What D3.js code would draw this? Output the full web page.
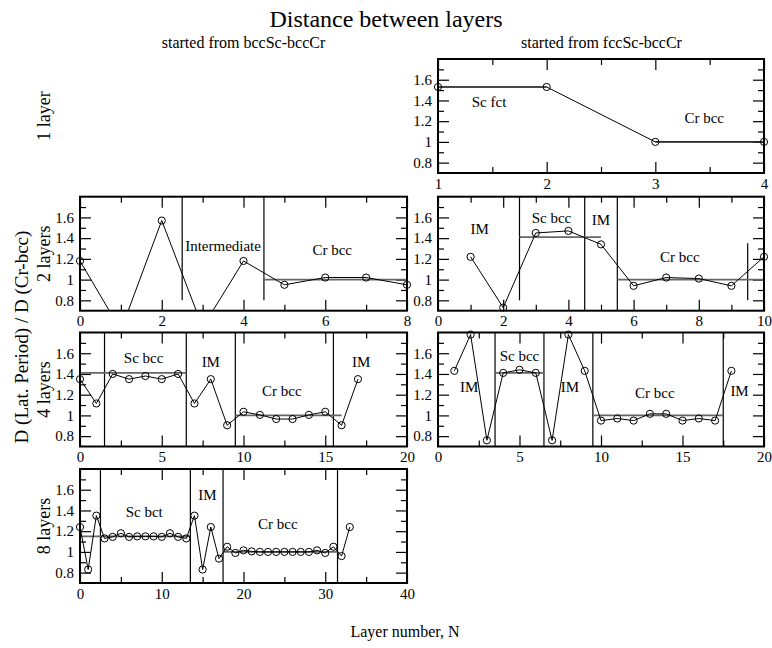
<!DOCTYPE html>
<html>
<head>
<meta charset="utf-8">
<script src="https://cdn.jsdelivr.net/npm/d3@7"></script>
<style>
  body { margin: 0; background: #fff; }
  svg { display: block; font-family: "Liberation Serif", "Times New Roman", serif; }
  svg text { font-family: "Liberation Serif", "Times New Roman", serif; }
</style>
</head>
<body>
<svg></svg>
<script>
// values
let layer1X = [1, 2, 3, 4];
let layer1Y = [1.53, 1.53, 1.00, 1.00];

let bcc2X = d3.range(0, 9);
let bcc2Y = [1.18, 0.51, 1.57, 0.54, 1.18, 0.95, 1.02, 1.02, 0.95];

let fcc2X = d3.range(1, 11);
let fcc2Y = [1.22, 0.73, 1.45, 1.47, 1.34, 0.94, 1.02, 1.01, 0.94, 1.22];

let bcc4X = d3.range(0, 18);
let bcc4Y = [1.35, 1.115, 1.40, 1.35, 1.38, 1.35, 1.40, 1.115, 1.35, 0.905,
  1.035, 1.005, 0.965, 0.965, 1.005, 1.035, 0.905, 1.35];

let fcc4X = d3.range(1, 19);
let fcc4Y = [1.43, 1.78, 0.76, 1.41, 1.44, 1.41, 0.76, 1.78, 1.43, 0.95,
  0.97, 0.95, 1.015, 1.015, 0.95, 0.97, 0.95, 1.43];

let bcc8X = d3.range(0, 34);
let bcc8Y = [1.24, 0.83, 1.35, 1.13, 1.145, 1.18, 1.145, 1.15, 1.15, 1.15,
  1.145, 1.18, 1.145, 1.13, 1.35, 0.83, 1.24, 0.935, 1.05, 0.99,
  1.015, 1.005, 1.0, 1.0, 1.0, 1.0, 1.0, 1.0, 1.0, 1.015,
  0.99, 1.05, 0.96, 1.24];

// reference levels: [from, to, level]
let layer1Ref = [[1, 2, 1.53], [3, 4, 1.0]];
let bcc2Ref = [[4.5, 8, 1.0]];
let fcc2Ref = [[2.5, 5, 1.41], [5.5, 10, 1.0]];
let bcc4Ref = [[0, 6.5, 1.41], [9.5, 16, 1.0]];
let fcc4Ref = [[3.5, 6.5, 1.41], [9.5, 17.5, 1.0]];
let bcc8Ref = [[0, 13.5, 1.15], [17.5, 31.5, 1.0]];

// region borders: [x, from, to]
let bcc2Div = [[2.5, 0.8, 1.8], [4.5, 0.8, 1.8]];
let fcc2Div = [[2.5, 0.8, 1.8], [4.5, 0.7, 1.8], [5.5, 0.7, 1.8], [9.5, 0.8, 1.35]];
let bcc4Div = [[1.5, 0.7, 1.8], [6.5, 0.7, 1.8], [9.5, 0.7, 1.8], [15.5, 0.7, 1.8]];
let fcc4Div = [[3.5, 0.7, 1.8], [6.5, 0.7, 1.8], [9.5, 0.7, 1.8], [17.5, 0.7, 1.8]];
let bcc8Div = [[2.5, 0.7, 1.8], [13.5, 0.7, 1.8], [17.5, 0.7, 1.8], [31.5, 0.7, 1.8]];

// region names: [text, x, y]
let layer1Names = [['Sc fct', 1.47, 1.39], ['Cr bcc', 3.45, 1.23]];
let bcc2Names = [['Intermediate', 3.5, 1.33], ['Cr bcc', 6.17, 1.29]];
let fcc2Names = [['IM', 1.28, 1.49], ['Sc bcc', 3.48, 1.60], ['IM', 5.0, 1.58], ['Cr bcc', 7.42, 1.22]];
let bcc4Names = [['Sc bcc', 3.89, 1.56], ['IM', 8.0, 1.52], ['Cr bcc', 12.34, 1.24], ['IM', 17.2, 1.52]];
let fcc4Names = [['IM', 1.92, 1.275], ['Sc bcc', 5.0, 1.58], ['IM', 8.1, 1.275], ['Cr bcc', 13.3, 1.22], ['IM', 18.5, 1.24]];
let bcc8Names = [['Sc bct', 7.85, 1.39], ['IM', 15.6, 1.55], ['Cr bcc', 24.2, 1.27]];

let yMajor = [0.8, 1, 1.2, 1.4, 1.6];
let yMinor = [0.9, 1.1, 1.3, 1.5, 1.7];
let rowLabels = ['1 layer', '2 layers', '4 layers', '8 layers'];

// layout
let config = { svg: { width: 772, height: 648 }, cols: [80, 438], rows: [59, 196.7, 332.5, 469], pw: 327, ph: 114 };

let panels = [
  { col: 1, row: 0, xs: layer1X, ys: layer1Y, ref: layer1Ref, div: [], names: layer1Names, dom: [1, 4], major: [1, 2, 3, 4], minor: [1.5, 2.5, 3.5] },
  { col: 0, row: 1, xs: bcc2X, ys: bcc2Y, ref: bcc2Ref, div: bcc2Div, names: bcc2Names, dom: [0, 8], major: [0, 2, 4, 6, 8], minor: [1, 3, 5, 7] },
  { col: 1, row: 1, xs: fcc2X, ys: fcc2Y, ref: fcc2Ref, div: fcc2Div, names: fcc2Names, dom: [0, 10], major: [0, 2, 4, 6, 8, 10], minor: [1, 3, 5, 7, 9] },
  { col: 0, row: 2, xs: bcc4X, ys: bcc4Y, ref: bcc4Ref, div: bcc4Div, names: bcc4Names, dom: [0, 20], major: [0, 5, 10, 15, 20], minor: [2.5, 7.5, 12.5, 17.5] },
  { col: 1, row: 2, xs: fcc4X, ys: fcc4Y, ref: fcc4Ref, div: fcc4Div, names: fcc4Names, dom: [0, 20], major: [0, 5, 10, 15, 20], minor: [2.5, 7.5, 12.5, 17.5] },
  { col: 0, row: 3, xs: bcc8X, ys: bcc8Y, ref: bcc8Ref, div: bcc8Div, names: bcc8Names, dom: [0, 40], major: [0, 10, 20, 30, 40], minor: [5, 15, 25, 35] }
];

let svg = d3.select('svg')
  .attr('width', config.svg.width)
  .attr('height', config.svg.height);

panels.forEach(drawPanel);

function drawPanel(p, i) {
  let x0 = config.cols[p.col];
  let y0 = config.rows[p.row];
  let pw = p.col === 1 ? config.pw - 1 : config.pw;
  let g = svg.append('g').attr('transform', translate(x0, y0));

  let x = d3.scaleLinear().domain(p.dom).range([0, pw]);
  let y = d3.scaleLinear().domain([0.7, 1.8]).range([config.ph, 0]);

  g.append('clipPath').attr('id', 'clip' + i)
    .append('rect').attr('width', pw).attr('height', config.ph);

  // axes, ticks pointing inward
  let axes = [
    d3.axisBottom(x).tickValues(p.major).tickSize(-11).tickPadding(5).tickFormat(d => String(d)),
    d3.axisBottom(x).tickValues(p.minor).tickSize(-6).tickFormat(''),
    d3.axisTop(x).tickValues(p.major).tickSize(-11).tickFormat(''),
    d3.axisTop(x).tickValues(p.minor).tickSize(-6).tickFormat(''),
    d3.axisLeft(y).tickValues(yMajor).tickSize(-11).tickPadding(6).tickFormat(d => d === 1 ? '1' : d.toFixed(1)),
    d3.axisLeft(y).tickValues(yMinor).tickSize(-6).tickFormat(''),
    d3.axisRight(y).tickValues(yMajor).tickSize(-11).tickFormat(''),
    d3.axisRight(y).tickValues(yMinor).tickSize(-6).tickFormat('')
  ];
  let shifts = [[0, config.ph], [0, config.ph], [0, 0], [0, 0], [0, 0], [0, 0], [pw, 0], [pw, 0]];
  axes.forEach(function(a, k) {
    let ga = g.append('g').attr('transform', translate(shifts[k][0], shifts[k][1])).call(a);
    ga.attr('font-family', null).attr('font-size', null);
    ga.select('.domain').remove();
    ga.selectAll('line').attr('stroke', '#000').attr('stroke-width', 1.2);
    ga.selectAll('text')
      .style('font-family', '"Liberation Serif", serif')
      .style('font-size', '15px')
      .attr('fill', '#000');
  });

  // region borders
  g.selectAll('line.div').data(p.div).enter().append('line')
    .attr('class', 'div')
    .attr('x1', d => x(d[0])).attr('x2', d => x(d[0]))
    .attr('y1', d => y(d[1])).attr('y2', d => y(d[2]))
    .attr('stroke', '#000').attr('stroke-width', 1.2);

  // reference levels
  g.selectAll('line.ref').data(p.ref).enter().append('line')
    .attr('class', 'ref')
    .attr('x1', d => x(d[0])).attr('x2', d => x(d[1]))
    .attr('y1', d => y(d[2])).attr('y2', d => y(d[2]))
    .attr('stroke', '#666').attr('stroke-width', 1.6);

  let pts = p.xs.map((v, k) => [v, p.ys[k]]);

  let line = d3.line().x(d => x(d[0])).y(d => y(d[1]));
  g.append('path').datum(pts)
    .attr('clip-path', 'url(#clip' + i + ')')
    .attr('d', line)
    .attr('fill', 'none')
    .attr('stroke', '#000')
    .attr('stroke-width', 1);

  g.selectAll('circle').data(pts.filter(d => d[1] >= 0.7)).enter().append('circle')
    .attr('cx', d => x(d[0])).attr('cy', d => y(d[1]))
    .attr('r', 3.6)
    .attr('fill', 'none')
    .attr('stroke', '#000')
    .attr('stroke-width', 1);

  g.selectAll('text.name').data(p.names).enter().append('text')
    .attr('class', 'name')
    .attr('x', d => x(d[1])).attr('y', d => y(d[2]))
    .attr('dy', '0.35em')
    .attr('text-anchor', 'middle')
    .attr('font-size', 15)
    .text(d => d[0]);

  // frame
  g.append('rect')
    .attr('width', pw).attr('height', config.ph)
    .attr('fill', 'none').attr('stroke', '#000').attr('stroke-width', 2);
}

// titles
svg.append('text')
  .attr('x', 386).attr('y', 27)
  .attr('text-anchor', 'middle')
  .attr('font-size', 24)
  .text('Distance between layers');

svg.append('text')
  .attr('x', config.cols[0] + config.pw / 2).attr('y', 48)
  .attr('text-anchor', 'middle')
  .attr('font-size', 16)
  .text('started from bccSc-bccCr');

svg.append('text')
  .attr('x', config.cols[1] + config.pw / 2).attr('y', 48)
  .attr('text-anchor', 'middle')
  .attr('font-size', 16)
  .text('started from fccSc-bccCr');

rowLabels.forEach(function(t, k) {
  let cy = config.rows[k] + config.ph / 2;
  svg.append('text')
    .attr('transform', translate(50, cy) + ' rotate(-90)')
    .attr('text-anchor', 'middle')
    .attr('font-size', 18)
    .text(t);
});

svg.append('text')
  .attr('transform', translate(28, 337) + ' rotate(-90)')
  .attr('text-anchor', 'middle')
  .attr('font-size', 19)
  .text('D (Lat. Period) / D (Cr-bcc)');

svg.append('text')
  .attr('x', 405).attr('y', 637)
  .attr('text-anchor', 'middle')
  .attr('font-size', 16)
  .text('Layer number, N');

function translate(x, y) {
  return 'translate(' + x + ',' + y + ')';
}
</script>
</body>
</html>
